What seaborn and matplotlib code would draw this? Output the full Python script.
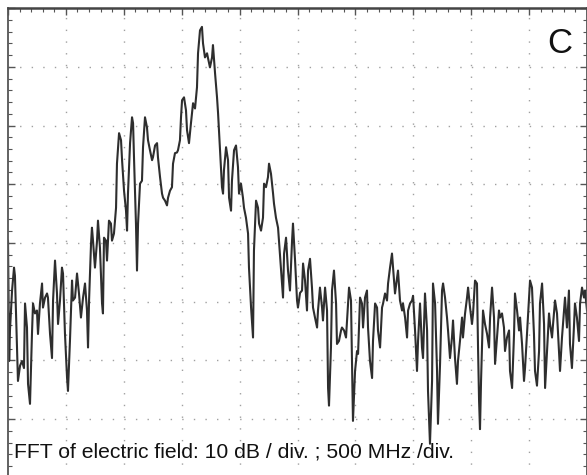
import matplotlib
matplotlib.use('Agg')
import matplotlib.pyplot as plt
import seaborn as sns
import pandas as pd

# FFT trace: frequency (MHz) and level (dB, top line = 0 dB)
freq_mhz = [0, 10, 17, 35, 52, 60, 78, 86, 104, 121, 138, 147, 164, 173, 190, 207, 216, 233, 250, 259,
            276, 294, 302, 320, 337, 345, 363, 380, 389, 406, 423, 432, 449, 466, 475, 492, 510, 518, 535, 553,
            561, 579, 596, 613, 630, 648, 665, 682, 691, 700, 717, 725, 734, 751, 769, 777, 794, 812, 820, 829,
            846, 855, 872, 889, 898, 915, 933, 941, 959, 976, 985, 1002, 1019, 1028, 1036, 1054, 1071, 1080, 1088, 1105,
            1114, 1123, 1140, 1157, 1166, 1183, 1200, 1209, 1226, 1244, 1252, 1270, 1287, 1295, 1313, 1330, 1339, 1356, 1373, 1382,
            1399, 1416, 1425, 1442, 1459, 1468, 1485, 1494, 1503, 1520, 1537, 1546, 1563, 1580, 1598, 1615, 1632, 1641, 1658, 1675,
            1684, 1701, 1719, 1727, 1744, 1762, 1770, 1788, 1805, 1814, 1831, 1848, 1857, 1865, 1883, 1900, 1909, 1926, 1934, 1952,
            1969, 1986, 1995, 2012, 2029, 2038, 2055, 2073, 2081, 2099, 2116, 2124, 2142, 2159, 2168, 2185, 2202, 2211, 2228, 2245,
            2254, 2271, 2289, 2297, 2314, 2332, 2340, 2358, 2375, 2384, 2401, 2418, 2435, 2453, 2461, 2479, 2496, 2504, 2522, 2539,
            2548, 2565, 2582, 2591, 2608, 2625, 2634, 2651, 2669, 2677, 2694, 2712, 2720, 2738, 2755, 2764, 2772, 2789, 2798, 2815,
            2833, 2841, 2858, 2876, 2884, 2902, 2919, 2928, 2945, 2962, 2971, 2979, 2997, 3014, 3023, 3040, 3057, 3066, 3083, 3100,
            3109, 3126, 3144, 3152, 3170, 3187, 3195, 3213, 3230, 3239, 3256, 3273, 3282, 3299, 3316, 3325, 3342, 3360, 3368, 3385,
            3403, 3411, 3429, 3446, 3455, 3472, 3489, 3498, 3515, 3532, 3541, 3558, 3575, 3584, 3601, 3619, 3627, 3644, 3662, 3670,
            3688, 3705, 3713, 3731, 3748, 3757, 3774, 3791, 3800, 3817, 3834, 3843, 3860, 3877, 3886, 3903, 3921, 3929, 3947, 3964,
            3973, 3990, 4007, 4016, 4033, 4050, 4059, 4068, 4076, 4085, 4102, 4119, 4137, 4154, 4163, 4180, 4197, 4206, 4223, 4240,
            4249, 4266, 4283, 4292, 4309, 4327, 4335, 4353, 4370, 4378, 4396, 4413, 4422, 4439, 4456, 4465, 4482, 4499, 4508, 4525,
            4542, 4551, 4568, 4586, 4594, 4612, 4629, 4638, 4655, 4672, 4681, 4698, 4707, 4724, 4741, 4750, 4767, 4784, 4801, 4810,
            4827, 4844, 4853, 4870, 4887, 4896, 4913, 4931, 4940, 4957, 4974, 4983, 5000]

level_db = [-39.6, -60.1, -54.9, -48.1, -44.2, -45.6, -57.8, -63.5, -60.9, -60.1, -61.3, -50.3, -54.4, -64.0, -67.4, -55.5, -50.3, -52.0, -51.5, -55.5,
            -50.3, -46.9, -51.0, -49.3, -48.6, -49.3, -55.5, -59.6, -49.8, -43.0, -48.6, -53.8, -49.8, -44.2, -45.2, -55.5, -63.0, -65.2, -56.7, -46.4,
            -49.8, -49.3, -45.2, -48.6, -52.7, -49.3, -46.9, -51.5, -57.8, -49.8, -40.1, -37.4, -39.6, -44.2, -39.6, -36.2, -40.8, -50.3, -52.0, -39.1,
            -39.6, -43.0, -36.2, -36.7, -39.6, -38.4, -34.0, -26.5, -21.3, -22.5, -25.9, -31.1, -34.5, -37.9, -31.6, -23.0, -18.6, -19.6, -25.4, -36.7,
            -44.7, -36.7, -29.9, -29.4, -23.7, -18.6, -20.3, -22.5, -24.2, -25.9, -25.4, -23.4, -23.0, -25.4, -28.8, -31.6, -32.3, -32.8, -33.6, -32.3,
            -31.1, -30.5, -26.5, -24.7, -24.6, -24.2, -22.5, -18.6, -15.7, -15.2, -17.4, -20.8, -23.0, -19.6, -16.2, -17.1, -13.5, -7.7, -3.8, -3.2,
            -6.0, -8.4, -7.7, -8.5, -10.1, -8.4, -6.3, -11.1, -15.2, -17.9, -24.2, -30.5, -31.6, -27.6, -23.7, -25.9, -32.3, -34.5, -29.4, -24.2,
            -23.4, -27.1, -31.6, -29.9, -32.3, -34.0, -35.7, -38.4, -44.2, -51.0, -56.1, -41.3, -32.8, -34.0, -36.7, -37.9, -35.7, -29.9, -30.5, -28.8,
            -26.5, -28.2, -31.6, -33.3, -35.7, -37.4, -39.6, -44.7, -49.3, -41.8, -39.1, -44.7, -48.1, -39.6, -36.7, -43.0, -49.8, -51.0, -48.5, -48.1,
            -43.5, -46.4, -51.5, -44.7, -42.7, -47.6, -51.0, -52.7, -54.4, -51.5, -47.6, -51.0, -53.2, -47.6, -51.5, -64.7, -67.7, -57.8, -48.1, -44.7,
            -50.3, -57.2, -56.7, -54.9, -54.4, -54.9, -56.1, -53.2, -47.6, -49.8, -60.1, -70.3, -61.8, -58.4, -58.9, -49.3, -50.3, -54.4, -49.3, -48.1,
            -54.4, -60.1, -63.0, -56.7, -50.3, -51.0, -54.9, -57.8, -51.0, -50.3, -48.6, -49.8, -46.9, -44.2, -41.8, -44.2, -48.6, -45.9, -44.7, -49.8,
            -51.5, -50.3, -52.7, -56.1, -51.5, -50.3, -49.8, -49.0, -54.9, -61.8, -56.7, -50.3, -57.8, -59.6, -48.6, -54.9, -65.2, -74.2, -63.5, -46.9,
            -50.3, -61.8, -70.8, -60.6, -48.1, -46.9, -49.3, -52.7, -54.9, -59.6, -56.1, -53.2, -59.6, -64.0, -60.1, -56.7, -52.7, -56.1, -52.0, -49.3,
            -47.6, -51.0, -53.8, -52.0, -46.4, -46.9, -57.8, -66.9, -71.7, -63.5, -51.5, -53.8, -55.5, -57.8, -52.7, -47.6, -52.7, -60.6, -56.1, -51.5,
            -52.7, -52.0, -54.4, -58.4, -56.1, -54.9, -61.8, -64.7, -55.5, -48.6, -51.5, -54.9, -52.7, -57.2, -63.5, -61.3, -55.5, -49.8, -46.4, -47.6,
            -55.5, -61.8, -64.3, -58.4, -50.3, -46.9, -53.8, -64.7, -58.4, -52.0, -53.8, -56.1, -53.8, -49.8, -52.0, -55.5, -61.8, -56.1, -51.5, -49.3,
            -54.4, -48.1, -57.2, -61.3, -54.4, -50.3, -52.7, -56.7, -50.3, -47.6, -49.3, -48.1, -51.5]

caption = 'FFT of electric field: 10 dB / div. ; 500 MHz /div.'
panel = 'C'

df = pd.DataFrame({'freq': freq_mhz, 'level': level_db})

sns.set_style('white')
plt.rcParams['font.family'] = ['Liberation Sans', 'DejaVu Sans']

fig = plt.figure(figsize=(5.87, 4.75), dpi=100)
ax = fig.add_axes([8 / 587, -0.006, 579 / 587, 0.989])

sns.lineplot(data=df, x='freq', y='level', ax=ax, estimator=None, sort=False,
             color='#2e2e2e', linewidth=1.5)

ax.set_xlim(0, 5000)
ax.set_ylim(-80, 0)
ax.set_xticks(range(0, 5001, 500))
ax.set_xticks(range(0, 5001, 100), minor=True)
ax.set_yticks(range(-80, 1, 10))
ax.set_yticks(range(-80, 1, 2), minor=True)

# graticule: dotted lines, one dot every 1/5 division
ax.grid(False)
for xv in range(500, 5000, 500):
    ax.axvline(xv, color='#a0a0a0', linewidth=1.0, linestyle=(0, (1.0, 7.44)), zorder=0)
for yv in range(-70, 0, 10):
    ax.axhline(yv, color='#a0a0a0', linewidth=1.0, linestyle=(0, (1.0, 7.34)), zorder=0)

ax.tick_params(which='both', direction='in', top=True, bottom=False, left=True, right=True,
               labelleft=False, labelbottom=False, color='#555555')
ax.tick_params(which='major', length=5, width=1.0)
ax.tick_params(which='minor', length=3, width=0.8)
for side in ['top', 'left', 'right']:
    ax.spines[side].set_color('#555555')
    ax.spines[side].set_linewidth(1.3)
ax.spines['top'].set_color('#444444')
ax.spines['top'].set_linewidth(1.8)
ax.spines['bottom'].set_visible(False)
ax.set_xlabel('')
ax.set_ylabel('')

fig.text(14.5 / 587, 17 / 475, caption, fontsize=15.2, color='#111111', va='baseline', ha='left')
fig.text(547 / 587, 422 / 475, panel, fontsize=25, color='#111111', va='baseline', ha='left')

fig.savefig('out.png', dpi=100, facecolor='white')
